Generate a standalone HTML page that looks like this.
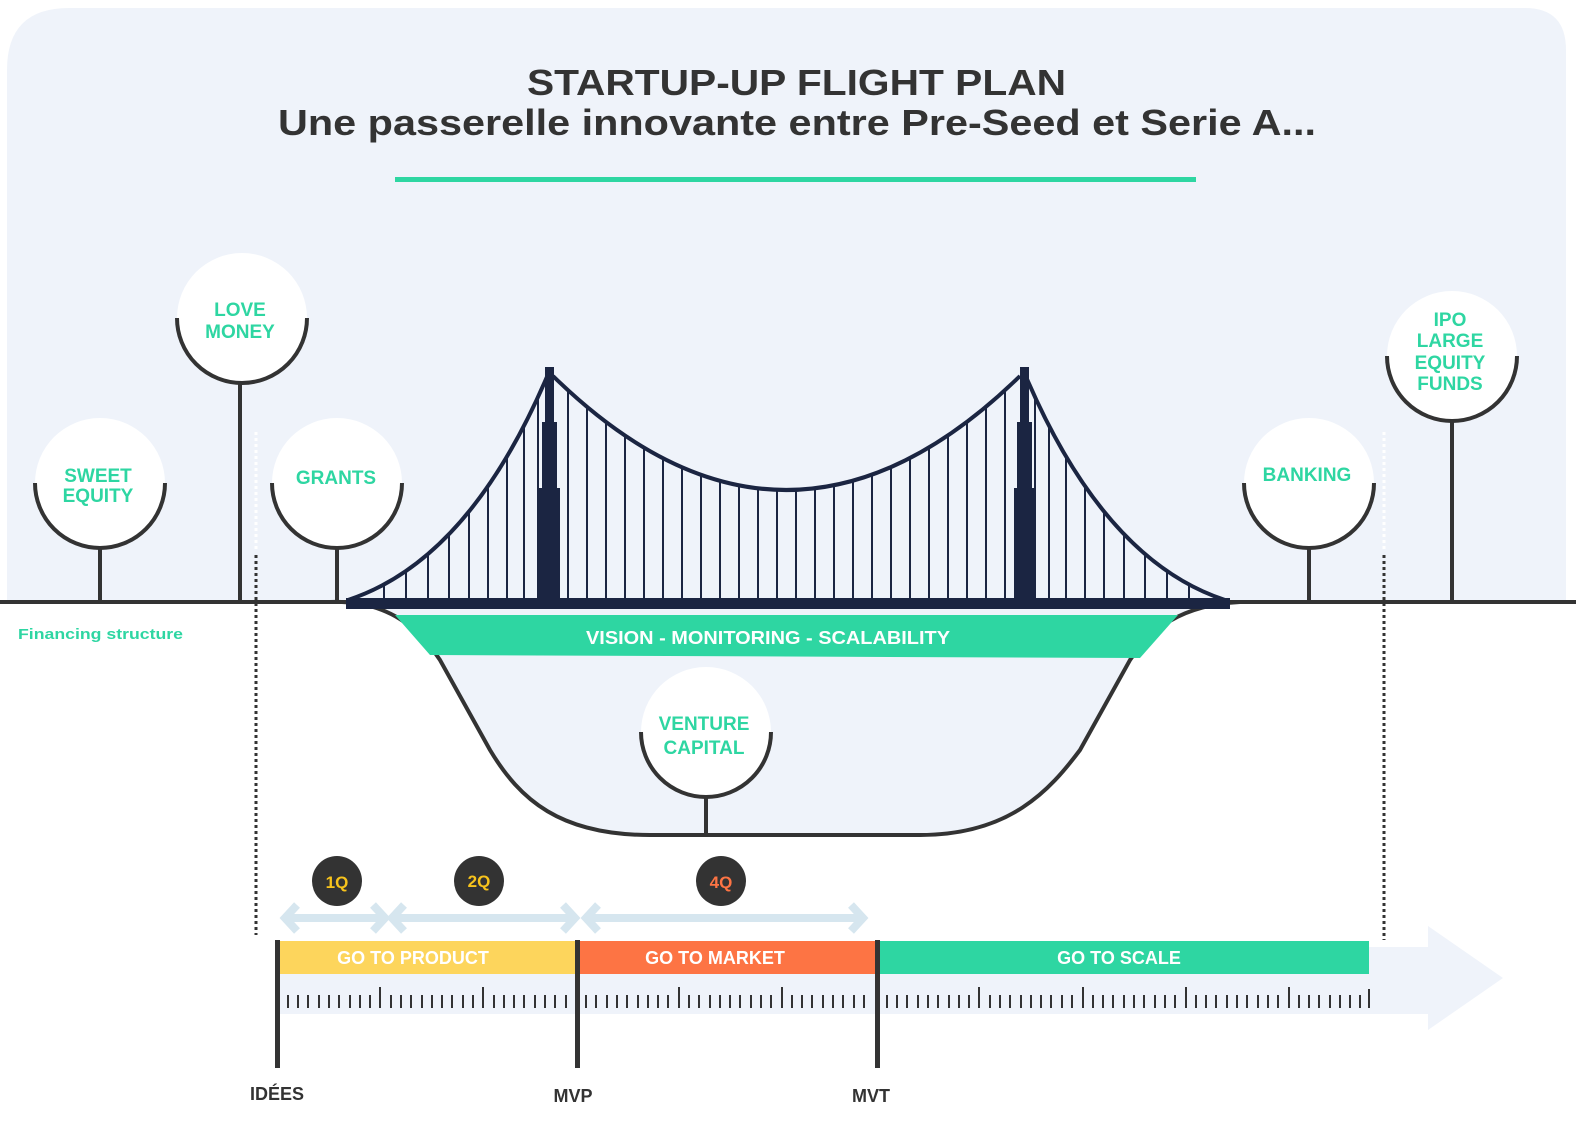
<!DOCTYPE html>
<html><head><meta charset="utf-8"><style>
html,body{margin:0;padding:0;background:#fff;}
svg{display:block;}
text{font-family:"Liberation Sans",sans-serif;font-weight:bold;}
</style></head><body>
<svg width="1576" height="1123" viewBox="0 0 1576 1123" xmlns="http://www.w3.org/2000/svg">
<path d="M7 602 L7 70 Q7 8 69 8 L1525 8 Q1566 8 1566 50 L1566 602 Z" fill="#eff3fa"/>
<text x="527" y="95" font-size="36" fill="#333" textLength="539" lengthAdjust="spacingAndGlyphs">STARTUP-UP FLIGHT PLAN</text>
<text x="278" y="135" font-size="36" fill="#333" textLength="1038" lengthAdjust="spacingAndGlyphs">Une passerelle innovante entre Pre-Seed et Serie A...</text>
<rect x="395" y="177" width="801" height="5" fill="#2ed6a2"/>

<path d="M350 602 C400 605 420 630 440 660 L490 750 C520 800 560 835 650 835 L920 835 C1010 835 1050 790 1080 750 L1130 660 C1150 630 1180 605 1240 602 Z" fill="#eff3fa"/>
<path d="M330 602 C390 600 420 630 440 660 L490 750 C520 800 560 835 650 835 L920 835 C1010 835 1050 790 1080 750 L1130 660 C1150 630 1180 605 1240 602" fill="none" stroke="#333" stroke-width="4"/>
<polygon points="395,615 1178,615 1140,658 430,655" fill="#2ed6a2"/>
<text x="768" y="644" font-size="18" fill="#fff" text-anchor="middle" textLength="364" lengthAdjust="spacingAndGlyphs">VISION - MONITORING - SCALABILITY</text>

<line x1="0" y1="602" x2="1576" y2="602" stroke="#333" stroke-width="4"/>
<text x="18" y="639" font-size="15" fill="#2ed6a2" textLength="165" lengthAdjust="spacingAndGlyphs">Financing structure</text>

<line x1="256" y1="432" x2="256" y2="552" stroke="#fff" stroke-width="3" stroke-dasharray="3 3"/>
<line x1="256" y1="555" x2="256" y2="935" stroke="#333" stroke-width="3" stroke-dasharray="3 3"/>
<line x1="1384" y1="432" x2="1384" y2="552" stroke="#fff" stroke-width="3" stroke-dasharray="3 3"/>
<line x1="1384" y1="555" x2="1384" y2="940" stroke="#333" stroke-width="3" stroke-dasharray="3 3"/>

<g stroke="#1b2542" stroke-width="2">
<line x1="384" y1="585" x2="384" y2="600"/><line x1="406" y1="571" x2="406" y2="600"/><line x1="428" y1="554" x2="428" y2="600"/><line x1="449" y1="534" x2="449" y2="600"/><line x1="469" y1="511" x2="469" y2="600"/><line x1="488" y1="486" x2="488" y2="600"/><line x1="507" y1="457" x2="507" y2="600"/><line x1="524" y1="425" x2="524" y2="600"/><line x1="538" y1="398" x2="538" y2="600"/>
<line x1="1189" y1="585" x2="1189" y2="600"/><line x1="1167" y1="571" x2="1167" y2="600"/><line x1="1145" y1="554" x2="1145" y2="600"/><line x1="1124" y1="534" x2="1124" y2="600"/><line x1="1104" y1="511" x2="1104" y2="600"/><line x1="1085" y1="486" x2="1085" y2="600"/><line x1="1066" y1="457" x2="1066" y2="600"/><line x1="1049" y1="425" x2="1049" y2="600"/><line x1="1035" y1="398" x2="1035" y2="600"/>
<line x1="568" y1="392" x2="568" y2="600"/><line x1="587" y1="408" x2="587" y2="600"/><line x1="606" y1="423" x2="606" y2="600"/><line x1="625" y1="436" x2="625" y2="600"/><line x1="644" y1="448" x2="644" y2="600"/><line x1="663" y1="459" x2="663" y2="600"/><line x1="682" y1="468" x2="682" y2="600"/><line x1="701" y1="475" x2="701" y2="600"/><line x1="720" y1="481" x2="720" y2="600"/><line x1="739" y1="485" x2="739" y2="600"/><line x1="758" y1="488" x2="758" y2="600"/><line x1="777" y1="490" x2="777" y2="600"/><line x1="796" y1="490" x2="796" y2="600"/><line x1="815" y1="488" x2="815" y2="600"/><line x1="834" y1="485" x2="834" y2="600"/><line x1="853" y1="481" x2="853" y2="600"/><line x1="872" y1="475" x2="872" y2="600"/><line x1="891" y1="468" x2="891" y2="600"/><line x1="910" y1="459" x2="910" y2="600"/><line x1="929" y1="448" x2="929" y2="600"/><line x1="948" y1="436" x2="948" y2="600"/><line x1="967" y1="423" x2="967" y2="600"/><line x1="986" y1="408" x2="986" y2="600"/><line x1="1005" y1="392" x2="1005" y2="600"/>
</g>
<g fill="none" stroke="#1b2542" stroke-width="4">
<path d="M348 600 Q470 560 549 372"/>
<path d="M1225 600 Q1103 560 1024 372"/>
<path d="M553 376 Q786 604 1020 376"/>
</g>
<g fill="#1b2542">
<rect x="545" y="367" width="9" height="235"/><rect x="542" y="422" width="15" height="180"/><rect x="539" y="488" width="21" height="114"/>
<rect x="1020" y="367" width="9" height="235"/><rect x="1017" y="422" width="15" height="180"/><rect x="1014" y="488" width="21" height="114"/>
<rect x="346" y="598" width="884" height="11"/>
</g>

<g stroke="#333" stroke-width="4">
<line x1="100" y1="545" x2="100" y2="602"/>
<line x1="240" y1="380" x2="240" y2="602"/>
<line x1="337" y1="545" x2="337" y2="602"/>
<line x1="1309" y1="545" x2="1309" y2="602"/>
<line x1="1452" y1="418" x2="1452" y2="602"/>
<line x1="706" y1="795" x2="706" y2="835"/>
</g>
<g fill="#fff">
<circle cx="100" cy="483" r="65"/><circle cx="242" cy="318" r="65"/><circle cx="337" cy="483" r="65"/>
<circle cx="1309" cy="483" r="65"/><circle cx="1452" cy="356" r="65"/><circle cx="706" cy="732" r="65"/>
</g>
<g fill="none" stroke="#333" stroke-width="4">
<path d="M35 483 A65 65 0 0 0 165 483"/>
<path d="M177 318 A65 65 0 0 0 307 318"/>
<path d="M272 483 A65 65 0 0 0 402 483"/>
<path d="M1244 483 A65 65 0 0 0 1374 483"/>
<path d="M1387 356 A65 65 0 0 0 1517 356"/>
<path d="M641 732 A65 65 0 0 0 771 732"/>
</g>
<g fill="#2ed6a2" font-size="19" text-anchor="middle">
<text x="98" y="482">SWEET</text><text x="98" y="502">EQUITY</text>
<text x="240" y="316">LOVE</text><text x="240" y="338">MONEY</text>
<text x="336" y="484">GRANTS</text>
<text x="1307" y="481">BANKING</text>
<text x="1450" y="326">IPO</text><text x="1450" y="347">LARGE</text><text x="1450" y="369">EQUITY</text><text x="1450" y="390">FUNDS</text>
<text x="704" y="730">VENTURE</text><text x="704" y="754">CAPITAL</text>
</g>

<polygon points="279,947 1428,947 1428,926 1503,978 1428,1030 1428,1014 279,1014" fill="#eff3fa"/>
<rect x="279" y="941" width="298" height="33" fill="#fdd55c"/>
<rect x="577" y="941" width="300" height="33" fill="#fd7444"/>
<rect x="877" y="941" width="492" height="33" fill="#2ed6a2"/>
<g fill="#fff" font-size="18" text-anchor="middle">
<text x="413" y="964">GO TO PRODUCT</text>
<text x="715" y="964">GO TO MARKET</text>
<text x="1119" y="964">GO TO SCALE</text>
</g>
<path stroke="#333" stroke-width="2" d="
M288 995V1008M298 995V1008M308 995V1008M319 995V1008M329 995V1008M339 995V1008M350 995V1008M360 995V1008M370 995V1008M380 987V1008
M391 995V1008M401 995V1008M411 995V1008M422 995V1008M432 995V1008M442 995V1008M452 995V1008M463 995V1008M473 995V1008M483 987V1008
M494 995V1008M504 995V1008M514 995V1008M524 995V1008M535 995V1008M545 995V1008M555 995V1008M566 995V1008
M586 995V1008M596 995V1008M607 995V1008M617 995V1008M627 995V1008M638 995V1008M648 995V1008M658 995V1008M668 995V1008M679 987V1008
M689 995V1008M699 995V1008M710 995V1008M720 995V1008M730 995V1008M740 995V1008M751 995V1008M761 995V1008M771 995V1008M782 987V1008
M792 995V1008M802 995V1008M812 995V1008M823 995V1008M833 995V1008M843 995V1008M854 995V1008M864 995V1008
M887 995V1008M897 995V1008M907 995V1008M918 995V1008M928 995V1008M938 995V1008M949 995V1008M959 995V1008M969 995V1008M979 987V1008
M990 995V1008M1000 995V1008M1010 995V1008M1021 995V1008M1031 995V1008M1041 995V1008M1051 995V1008M1062 995V1008M1072 995V1008M1083 987V1008
M1093 995V1008M1103 995V1008M1113 995V1008M1124 995V1008M1134 995V1008M1144 995V1008M1155 995V1008M1165 995V1008M1175 995V1008M1186 987V1008
M1196 995V1008M1206 995V1008M1216 995V1008M1227 995V1008M1237 995V1008M1247 995V1008M1258 995V1008M1268 995V1008M1278 995V1008M1289 987V1008
M1299 995V1008M1309 995V1008M1319 995V1008M1330 995V1008M1340 995V1008M1350 995V1008M1360 995V1008M1369 989V1008"/>
<g fill="#333">
<rect x="275" y="940" width="5" height="128"/>
<rect x="575" y="940" width="5" height="128"/>
<rect x="875" y="940" width="5" height="128"/>
</g>
<g fill="#333" font-size="18" text-anchor="middle">
<text x="277" y="1100">IDÉES</text>
<text x="573" y="1102">MVP</text>
<text x="871" y="1102">MVT</text>
</g>

<g fill="none" stroke="#d6e6ef" stroke-width="8">
<path d="M290 918H380M297 905L285 918L297 931M373 905L385 918L373 931"/>
<path d="M392 918H570M404 905L392 918L404 931M563 905L575 918L563 931"/>
<path d="M586 918H858M598 905L586 918L598 931M851 905L863 918L851 931"/>
</g>
<g fill="#333">
<circle cx="337" cy="881" r="25"/><circle cx="479" cy="881" r="25"/><circle cx="721" cy="881" r="25"/>
</g>
<g font-size="17" text-anchor="middle">
<text x="337" y="888" fill="#f7c31c">1Q</text>
<text x="479" y="887" fill="#f7c31c">2Q</text>
<text x="721" y="888" fill="#fd7444">4Q</text>
</g>
</svg>
</body></html>
